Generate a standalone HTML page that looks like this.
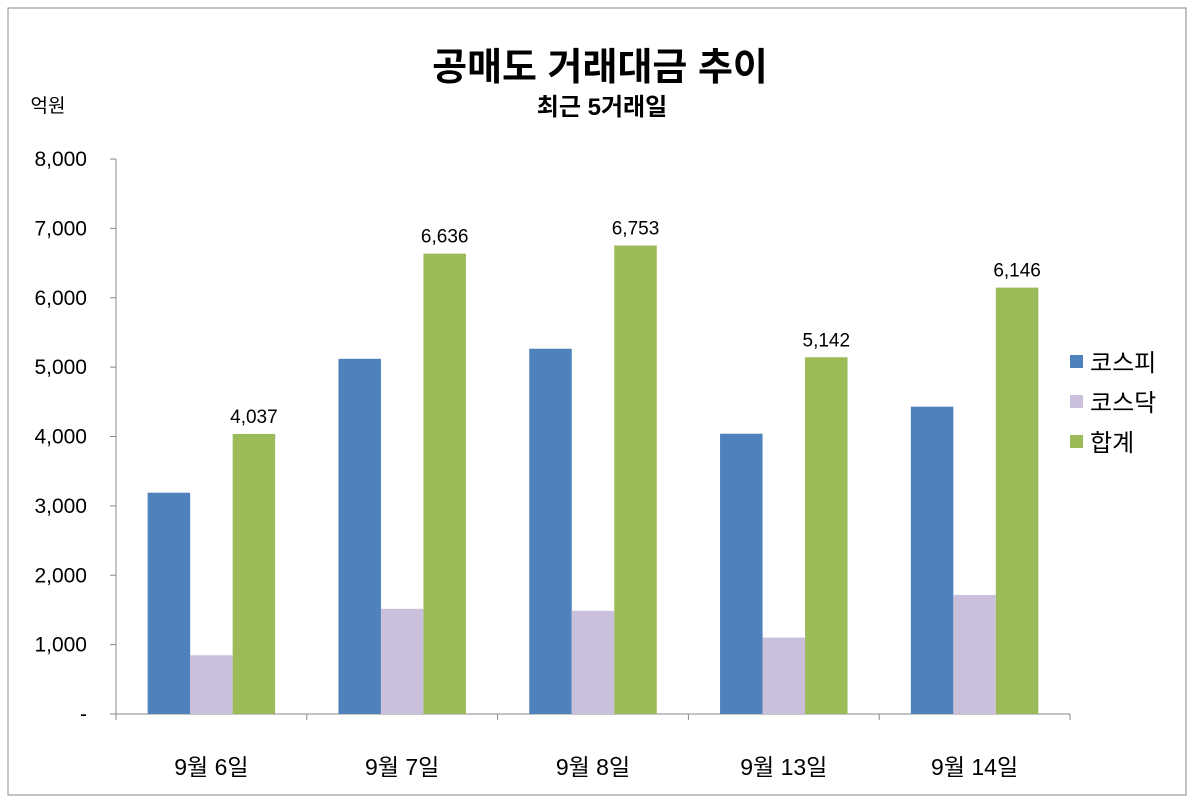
<!DOCTYPE html>
<html><head><meta charset="utf-8">
<style>
body{margin:0;background:#fff;}
svg text{font-family:"Liberation Sans","Noto Sans CJK KR","NanumGothic",sans-serif;}
</style></head>
<body>
<svg width="1195" height="800" xmlns="http://www.w3.org/2000/svg">
<rect x="8" y="8" width="1178" height="787" fill="#fff" stroke="#888" stroke-width="1"/>
<text x="600" y="80" text-anchor="middle" font-size="38" font-weight="bold">공매도 거래대금 추이</text>
<text x="602" y="115" text-anchor="middle" font-size="24" font-weight="bold">최근 5거래일</text>
<text x="48" y="112" text-anchor="middle" font-size="19">억원</text>
<g id="plot"></g>
</svg>
<script>
const categories=["9월 6일","9월 7일","9월 8일","9월 13일","9월 14일"];
const kospi=[3190,5120,5265,4040,4430];
const kosdaq=[847,1516,1488,1102,1716];
const total=[4037,6636,6753,5142,6146];
const totalLabels=["4,037","6,636","6,753","5,142","6,146"];
const yTicks=[0,1000,2000,3000,4000,5000,6000,7000,8000];
const yTickLabels=["-","1,000","2,000","3,000","4,000","5,000","6,000","7,000","8,000"];
const seriesNames=["코스피","코스닥","합계"];
const colors=["#4f81bd","#cbc0dc","#9bbb59"];
const NS="http://www.w3.org/2000/svg";
const g=document.getElementById("plot");
const x0=116,x1=1070,y0=714,yTop=159,yMax=8000;
const y=v=>y0-(v/yMax)*(y0-yTop);
const catW=(x1-x0)/categories.length;
function mk(t,a,txt){const e=document.createElementNS(NS,t);for(const k in a)e.setAttribute(k,a[k]);if(txt!=null)e.textContent=txt;g.appendChild(e);return e;}
// axes
let ax=mk("line",{x1:x0,y1:yTop,x2:x0,y2:y0,stroke:"#888"});


let bx=mk("line",{x1:x0,y1:y0,x2:x1,y2:y0,stroke:"#888"});


yTicks.forEach((v,i)=>{
  mk("line",{x1:x0-6,y1:y(v),x2:x0,y2:y(v),stroke:"#888"});
  const t=mk("text",{x:87,y:y(v)+7,"text-anchor":"end","font-size":"21"},yTickLabels[i]);
  
  
});
for(let i=0;i<=categories.length;i++){mk("line",{x1:x0+i*catW,y1:y0,x2:x0+i*catW,y2:y0+6,stroke:"#888"});}
const bw=42.5;
const series=[kospi,kosdaq,total];
categories.forEach((c,i)=>{
  const cx=x0+catW*(i+0.5);
  const start=cx-bw*1.5;
  series.forEach((s,j)=>{
    const r=mk("rect",{x:start+j*bw,y:y(s[i]),width:bw,height:y0-y(s[i]),fill:colors[j]});
    
    
  });
  const l=mk("text",{x:start+2.5*bw,y:y(total[i])-11,"text-anchor":"middle","font-size":"19"},totalLabels[i]);
  
  
  const ct=mk("text",{x:cx,y:775,"text-anchor":"middle","font-size":"23"},c);
  
  
});
seriesNames.forEach((n,j)=>{
  const yy=362+j*40;
  const sq=mk("rect",{x:1070,y:yy-7,width:13,height:13,fill:colors[j]});
  
  
  const t=mk("text",{x:1090,y:yy+9,"font-size":"24"},n);
  
  
});
</script>
</body></html>
